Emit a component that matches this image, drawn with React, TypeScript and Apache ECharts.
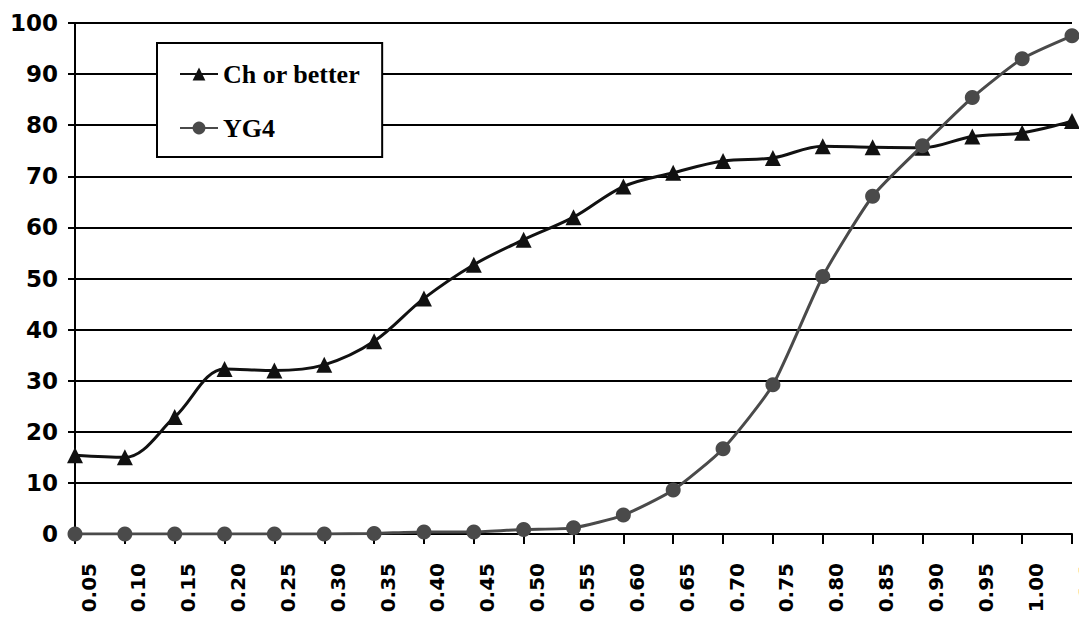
import React, { useEffect, useRef } from "react";
import * as echarts from "echarts";

const categories = [
  "0.05", "0.10", "0.15", "0.20", "0.25", "0.30", "0.35", "0.40", "0.45", "0.50",
  "0.55", "0.60", "0.65", "0.70", "0.75", "0.80", "0.85", "0.90", "0.95", "1.00", "1.1",
];

const chOrBetter = [
  15.4, 15.0, 22.9, 32.3, 32.0, 33.1, 37.7, 46.1, 52.7, 57.6,
  62.0, 68.0, 70.7, 73.0, 73.6, 75.9, 75.7, 75.6, 77.8, 78.5, 80.8,
];

const yg4 = [
  0, 0, 0, 0, 0, 0, 0.1, 0.4, 0.4, 0.9,
  1.2, 3.7, 8.6, 16.7, 29.2, 50.4, 66.1, 76.0, 85.4, 93.0, 97.5,
];

const yTicks = { min: 0, max: 100, interval: 10 };

export default function App() {
  const ref = useRef<HTMLDivElement>(null);
  useEffect(() => {
    document.body.style.margin = "0";
    if (!ref.current) return;
    const chart = echarts.init(ref.current, null, { renderer: "svg" });
    chart.setOption({
      animation: false,
      backgroundColor: "#ffffff",
      grid: { left: 75, right: 7, top: 23, bottom: 84, containLabel: false, outerBoundsMode: "none" },
      legend: {
        orient: "vertical",
        left: 157,
        top: 43,
        padding: [18, 22, 16, 22],
        itemGap: 28,
        itemWidth: 38,
        itemHeight: 16,
        itemTextGap: 3,
        borderColor: "#000",
        borderWidth: 2,
        borderRadius: 0,
        backgroundColor: "#fff",
        textStyle: {
          fontFamily: "Liberation Serif",
          fontWeight: "bold",
          fontSize: 26,
          color: "#000",
        },
        data: ["Ch or better", "YG4"],
      },
      xAxis: {
        type: "category",
        data: categories,
        boundaryGap: false,
        axisLine: { show: true, lineStyle: { color: "#000", width: 2 } },
        axisTick: { show: true, length: 10, lineStyle: { color: "#000", width: 2 }, alignWithLabel: true },
        axisLabel: {
          rotate: 90,
          interval: 0,
          margin: 29,
          verticalAlign: "top",
          lineHeight: 27,
          fontFamily: "DejaVu Sans",
          fontWeight: "bold",
          fontSize: 20,
          color: "#000",
        },
        splitLine: { show: false },
      },
      yAxis: {
        type: "value",
        min: yTicks.min,
        max: yTicks.max,
        interval: yTicks.interval,
        axisLine: { show: true, lineStyle: { color: "#000", width: 2 } },
        axisTick: { show: true, length: 7, lineStyle: { color: "#000", width: 2 } },
        axisLabel: {
          margin: 17,
          fontFamily: "DejaVu Sans",
          fontWeight: "bold",
          fontSize: 23,
          color: "#000",
        },
        splitLine: { show: true, lineStyle: { color: "#000", width: 1.8 } },
      },
      series: [
        {
          name: "Ch or better",
          type: "line",
          data: chOrBetter,
          smooth: 0.35,
          symbol: "triangle",
          symbolSize: 16,
          lineStyle: { color: "#111", width: 3 },
          itemStyle: { color: "#111" },
          z: 3,
        },
        {
          name: "YG4",
          type: "line",
          data: yg4,
          smooth: 0.2,
          symbol: "circle",
          symbolSize: 15,
          lineStyle: { color: "#4a4a4a", width: 3 },
          itemStyle: { color: "#4a4a4a" },
          z: 4,
        },
      ],
    });
    return () => chart.dispose();
  }, []);
  return (
    <div
      ref={ref}
      style={{ position: "fixed", left: 0, top: 0, width: 1079, height: 618, background: "#fff", overflow: "hidden" }}
    />
  );
}
